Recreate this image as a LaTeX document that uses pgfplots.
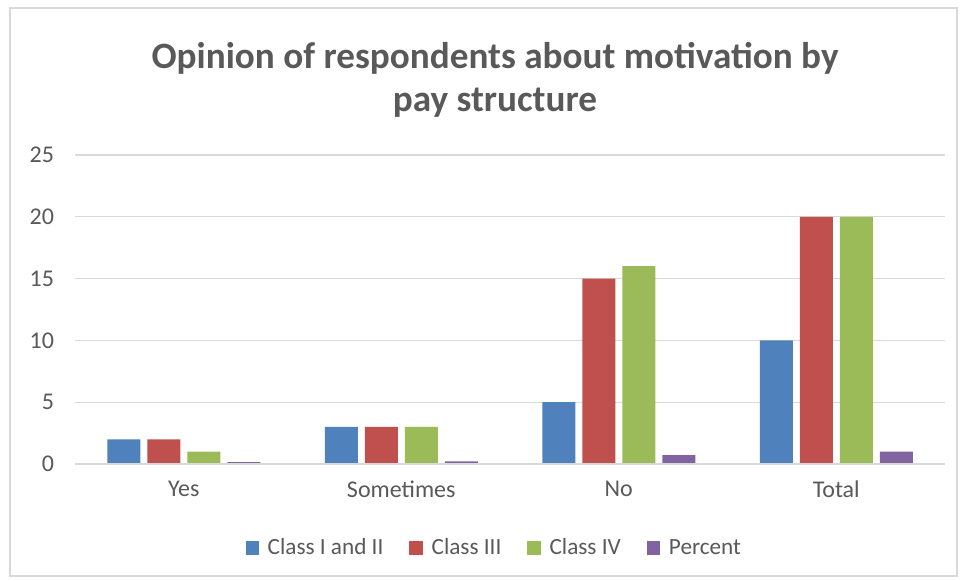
\documentclass[border=0pt]{standalone}
\usepackage{pgfplots}
\pgfplotsset{compat=1.18}
\usepackage{fontspec}
\setmainfont{Carlito}
\definecolor{cA}{HTML}{4F81BD}
\definecolor{cB}{HTML}{C0504D}
\definecolor{cC}{HTML}{9BBB59}
\definecolor{cD}{HTML}{8064A2}
\definecolor{txt}{HTML}{595959}
\definecolor{grd}{HTML}{D9D9D9}
\begin{document}
\begin{tikzpicture}
\useasboundingbox (-37.5pt,-58pt) rectangle (443pt,232pt);
\draw[grd, line width=0.8pt] (-32.5pt,-56pt) rectangle (441pt,228pt);
\begin{axis}[
  at={(0,0)}, anchor=south west,
  scale only axis, width=435pt, height=154.5pt,
  ybar=3.5pt, bar width=16.5pt,
  xmin=-0.5, xmax=3.5, ymin=0, ymax=25,
  xtick={0,1,2,3}, xticklabels={Yes,Sometimes,No,Total},
  ytick={0,5,10,15,20,25},
  major tick length=0pt,
  axis line style={draw=none},
  ymajorgrids, grid style={grd, line width=0.6pt},
  tick label style={font=\fontsize{12}{14}\selectfont, text=txt},
  /pgf/number format/assume math mode=true,
  yticklabel style={xshift=-7pt},
  xticklabel style={yshift=-5pt},
  legend style={at={(0.483,-0.272)}, anchor=center, draw=none, legend columns=4,
    font=\fontsize{11.6}{14}\selectfont, text=txt,
    /tikz/every odd column/.append style={column sep=2.5pt},
    /tikz/every even column/.append style={column sep=11pt}},
  legend image code/.code={\fill[#1] (0pt,-3.3pt) rectangle (6.6pt,3.3pt);},
]
\addplot[fill=cA, draw=none] coordinates {(0,2) (1,3) (2,5) (3,10)};
\addplot[fill=cB, draw=none] coordinates {(0,2) (1,3) (2,15) (3,20)};
\addplot[fill=cC, draw=none] coordinates {(0,1) (1,3) (2,16) (3,20)};
\addplot[fill=cD, draw=none] coordinates {(0,0.15) (1,0.22) (2,0.72) (3,1)};
\legend{Class I and II, Class III, Class IV, Percent}
\draw[grd, line width=0.8pt] (axis cs:-0.5,0) -- (axis cs:3.5,0);
\end{axis}
\node[align=center, font=\fontsize{18.6}{21.5}\selectfont\bfseries, text=txt] at (210pt,192pt)
  {Opinion of respondents about motivation by\\pay structure};
\end{tikzpicture}
\end{document}
